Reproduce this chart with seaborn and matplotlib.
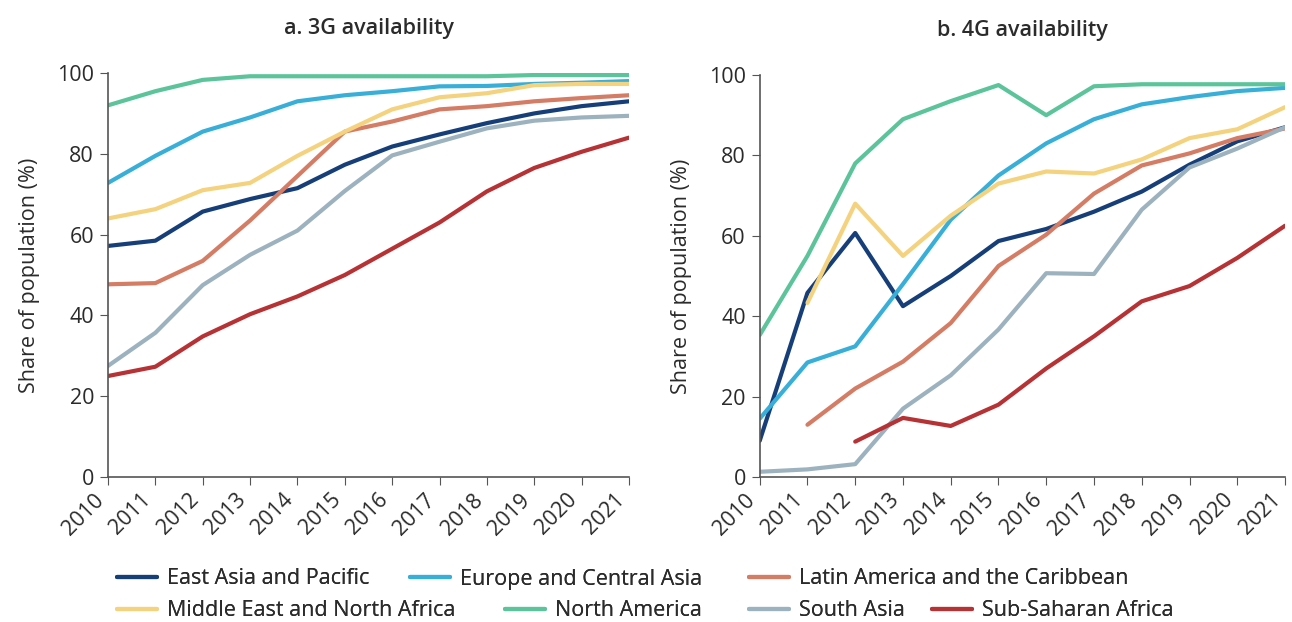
import numpy as np
import pandas as pd
import matplotlib
matplotlib.use("Agg")
import matplotlib.pyplot as plt
import seaborn as sns
from matplotlib.lines import Line2D

years = list(range(2010, 2022))
regions = ["East Asia and Pacific", "Europe and Central Asia", "Latin America and the Caribbean",
           "Middle East and North Africa", "North America", "South Asia", "Sub-Saharan Africa"]
colors = ["#163f7a", "#38afd8", "#d57c65", "#f4d27e", "#5cc49a", "#9db2bf", "#b73234"]

nan = np.nan
# a. 3G availability
g3_eap = [57.2, 58.5, 65.7, 68.8, 71.5, 77.3, 81.8, 84.8, 87.6, 90.0, 91.8, 93.0]
g3_eca = [72.8, 79.5, 85.5, 89.0, 93.0, 94.5, 95.5, 96.7, 96.8, 97.3, 97.6, 98.0]
g3_lac = [47.7, 48.0, 53.5, 63.5, 74.5, 85.5, 88.0, 91.0, 91.8, 93.0, 93.8, 94.5]
g3_mena = [64.0, 66.3, 71.0, 72.8, 79.5, 85.5, 91.0, 94.0, 95.0, 97.0, 97.3, 97.3]
g3_na = [92.0, 95.5, 98.3, 99.2, 99.2, 99.2, 99.2, 99.2, 99.2, 99.5, 99.5, 99.5]
g3_sa = [27.5, 35.7, 47.5, 55.0, 61.0, 70.8, 79.6, 83.0, 86.3, 88.2, 89.0, 89.4]
g3_ssa = [25.0, 27.3, 34.8, 40.3, 44.7, 50.0, 56.5, 63.0, 70.7, 76.5, 80.5, 84.0]

# b. 4G availability
g4_eap = [9.0, 45.8, 60.7, 42.5, 50.0, 58.7, 61.7, 66.0, 71.0, 77.7, 83.5, 87.0]
g4_eca = [14.5, 28.5, 32.5, 48.0, 64.0, 75.0, 83.0, 89.0, 92.7, 94.5, 96.0, 96.8]
g4_lac = [nan, 13.0, 22.0, 28.7, 38.3, 52.5, 60.3, 70.5, 77.5, 80.5, 84.3, 86.7]
g4_mena = [nan, 43.3, 68.0, 55.0, 65.0, 73.0, 76.0, 75.5, 79.0, 84.3, 86.5, 92.0]
g4_na = [35.3, 55.0, 78.0, 89.0, 93.5, 97.5, 90.0, 97.2, 97.7, 97.7, 97.7, 97.7]
g4_sa = [1.3, 1.9, 3.2, 17.0, 25.3, 36.7, 50.7, 50.5, 66.5, 77.0, 81.7, 87.0]
g4_ssa = [nan, nan, 8.8, 14.7, 12.7, 18.0, 27.0, 35.0, 43.7, 47.5, 54.5, 62.5]

g3 = [g3_eap, g3_eca, g3_lac, g3_mena, g3_na, g3_sa, g3_ssa]
g4 = [g4_eap, g4_eca, g4_lac, g4_mena, g4_na, g4_sa, g4_ssa]


def long_df(series):
    rows = []
    for reg, vals in zip(regions, series):
        for y, v in zip(years, vals):
            rows.append({"Year": y, "Region": reg, "Value": v})
    return pd.DataFrame(rows).dropna()


sns.set_style("ticks")
plt.rcParams["font.family"] = ["Open Sans", "DejaVu Sans"]
txt = "#2b2b2b"
plt.rcParams["text.color"] = txt
plt.rcParams["axes.labelcolor"] = txt
plt.rcParams["xtick.color"] = "#555555"
plt.rcParams["ytick.color"] = "#555555"
plt.rcParams["xtick.labelcolor"] = txt
plt.rcParams["ytick.labelcolor"] = txt
fs = 15.5

fig = plt.figure(figsize=(12.92, 6.22), dpi=100)
ax1 = fig.add_axes([0.0836, 0.2331, 0.4032, 0.6495])
ax2 = fig.add_axes([0.588, 0.2331, 0.4066, 0.6463])
palette = dict(zip(regions, colors))

for ax, data, title in [(ax1, g3, "a. 3G availability"), (ax2, g4, "b. 4G availability")]:
    df = long_df(data)
    sns.lineplot(data=df, x="Year", y="Value", hue="Region", hue_order=regions,
                 palette=palette, linewidth=3, ax=ax, legend=False)
    ax.set_xlim(2010, 2021)
    ax.set_ylim(0, 100)
    ax.set_xticks(years)
    ax.set_xticklabels([str(y) for y in years], rotation=45, ha="right", fontsize=fs)
    ax.set_yticks(range(0, 101, 20))
    ax.tick_params(axis="y", labelsize=fs, length=6, pad=4)
    ax.tick_params(axis="x", length=6, pad=3)
    ax.set_xlabel("")
    ax.set_ylabel("Share of population (%)", fontsize=fs, labelpad=12)
    ax.set_title(title, fontsize=fs, fontweight=600, pad=28)
    for s in ["top", "right"]:
        ax.spines[s].set_visible(False)
    for s in ["left", "bottom"]:
        ax.spines[s].set_color("#555555")
        ax.spines[s].set_linewidth(1.2)

# legend entries laid out in two flowing rows
leg_x = [117, 410, 749, 117, 505, 749, 932]
leg_y = [579, 579, 579, 611, 611, 611, 611]
for reg, col, x, y in zip(regions, colors, leg_x, leg_y):
    lg = fig.legend([Line2D([0], [0], color=col, lw=3)], [reg], loc="center left",
                    bbox_to_anchor=(x / 1292, 1 - y / 622), frameon=False, fontsize=fs,
                    handlelength=1.85, handletextpad=0.45, borderpad=0, borderaxespad=0)
    fig.add_artist(lg)

fig.savefig("out.png", dpi=100)
